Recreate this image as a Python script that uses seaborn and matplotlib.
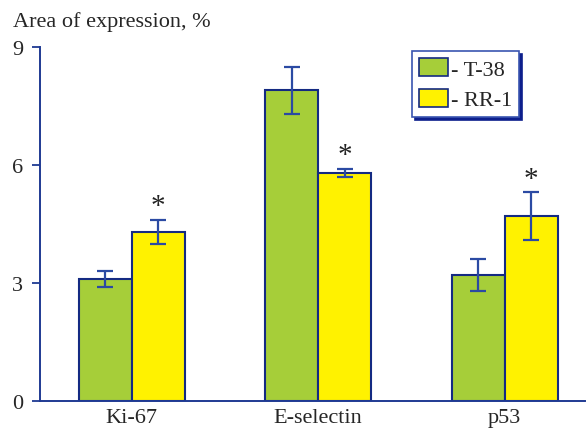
import numpy as np
import pandas as pd
import matplotlib
matplotlib.use('Agg')
import matplotlib.pyplot as plt
import seaborn as sns
from matplotlib.patches import Patch

# Dados
marcadores = ['Ki-67', 'E-selectin', 'p53']
grupos = ['T-38', 'RR-1']
media_t38 = [3.1, 7.9, 3.2]
erro_t38 = [0.2, 0.6, 0.4]
media_rr1 = [4.3, 5.8, 4.7]
erro_rr1 = [0.3, 0.1, 0.6]
significativo_rr1 = [True, True, True]

cores = {'T-38': '#a6ce39', 'RR-1': '#fff200'}
azul = '#1f3a93'
borda = '#142a82'

sns.set_style('white')
plt.rcParams['font.family'] = ['Liberation Serif', 'DejaVu Serif']

df = pd.DataFrame({
    'marcador': marcadores * 2,
    'grupo': ['T-38'] * 3 + ['RR-1'] * 3,
    'valor': media_t38 + media_rr1,
})

fig = plt.figure(figsize=(5.86, 4.31), dpi=100)
ax = fig.add_axes([0.068, 0.067, 0.930, 0.822])

sns.barplot(data=df, x='marcador', y='valor', hue='grupo', order=marcadores,
            hue_order=grupos, palette=cores, saturation=1, width=0.57,
            errorbar=None, edgecolor=borda, linewidth=1.5, legend=False, ax=ax)

# Barras de erro a partir da geometria das barras
erros = {'T-38': erro_t38, 'RR-1': erro_rr1}
medias = {'T-38': media_t38, 'RR-1': media_rr1}
for cont, g in zip(ax.containers, grupos):
    for i, barra in enumerate(cont.patches):
        xc = barra.get_x() + barra.get_width() / 2
        ax.errorbar(xc, medias[g][i], yerr=erros[g][i], fmt='none',
                    ecolor='#2b4aa3', elinewidth=1.6, capsize=5.5, capthick=1.6,
                    zorder=5)
        if g == 'RR-1' and significativo_rr1[i]:
            ax.text(xc, medias[g][i] + erros[g][i] + 0.02, '*', ha='center',
                    va='bottom', fontsize=21, color='#222222')

ax.set_ylim(0, 9)
ax.set_xlim(-0.493, 2.43)
ax.set_yticks([0, 3, 6, 9])
ax.set_xlabel('')
ax.set_ylabel('')
ax.tick_params(axis='y', direction='out', length=6, width=1.3, color=azul,
               labelsize=16, pad=6, left=True)
ax.tick_params(axis='x', length=0, labelsize=16, pad=5)
for s in ['top', 'right']:
    ax.spines[s].set_visible(False)
for s in ['left', 'bottom']:
    ax.spines[s].set_color(azul)
    ax.spines[s].set_linewidth(1.4)

fig.text(0.022, 0.948, 'Area of expression, %', fontsize=16, ha='left', va='center')

# Legenda com sombra azul
alcas = [Patch(facecolor=cores[g], edgecolor=borda, linewidth=1.2) for g in grupos]
leg = ax.legend(alcas, ['- ' + g for g in grupos], loc='upper left',
                bbox_to_anchor=(0.703, 0.879), bbox_transform=fig.transFigure,
                borderaxespad=0, fontsize=16, frameon=True, fancybox=False,
                shadow={'color': '#0d1f8c', 'alpha': 1}, handlelength=1.3,
                handleheight=0.9, handletextpad=0.15, labelspacing=0.4,
                borderpad=0.3)
leg.get_frame().set_edgecolor('#3a55b0')
leg.get_frame().set_linewidth(1.2)

fig.savefig('out.png', dpi=100)
